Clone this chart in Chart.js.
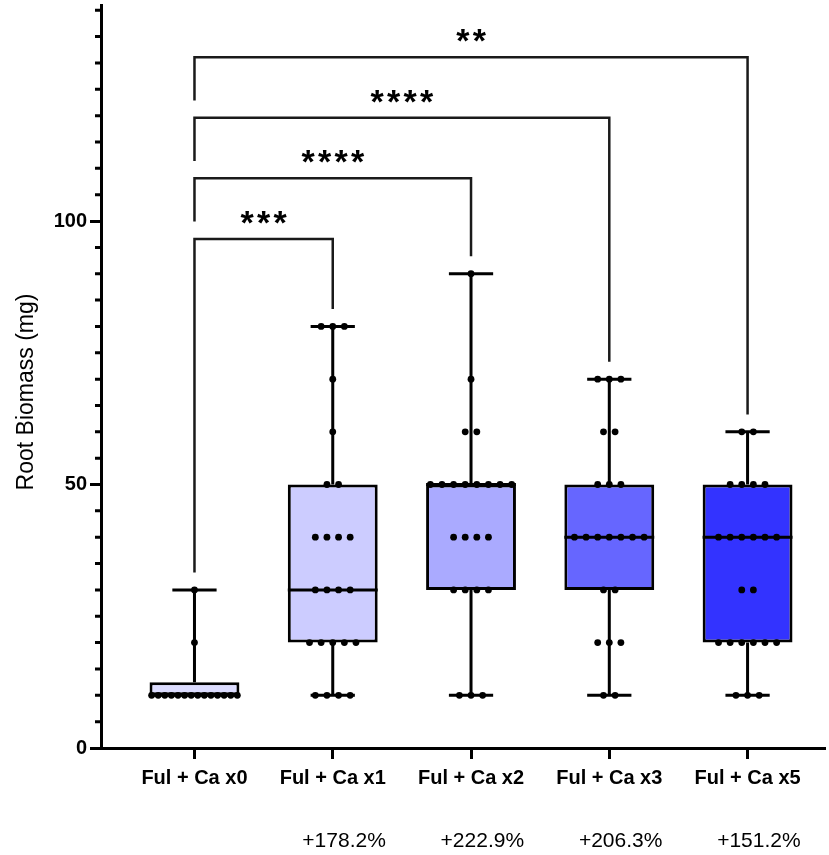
<!DOCTYPE html>
<html>
<head>
<meta charset="utf-8">
<script src="https://cdn.jsdelivr.net/npm/chart.js@4.4.1/dist/chart.umd.min.js"></script>
<style>
  html, body { margin: 0; padding: 0; background: #fff; }
  canvas { display: block; }
</style>
</head>
<body>
<canvas id="rootChart" width="829" height="855"></canvas>
<script>
// groups and read-off values
const categories = ['Ful + Ca x0', 'Ful + Ca x1', 'Ful + Ca x2', 'Ful + Ca x3', 'Ful + Ca x5'];
const changeLabels = ['', '+178.2%', '+222.9%', '+206.3%', '+151.2%'];

const x0Values = [10, 10, 10, 10, 10, 10, 10, 10, 10, 10, 10, 10, 10, 10, 20, 30];
const x1Values = [10, 10, 10, 10, 20, 20, 20, 20, 20, 30, 30, 30, 30, 40, 40, 40, 40, 50, 50, 60, 70, 80, 80, 80];
const x2Values = [10, 10, 10, 30, 30, 30, 30, 40, 40, 40, 40, 50, 50, 50, 50, 50, 50, 50, 50, 60, 60, 70, 90];
const x3Values = [10, 10, 20, 20, 20, 30, 30, 40, 40, 40, 40, 40, 40, 40, 50, 50, 50, 60, 60, 70, 70, 70];
const x5Values = [10, 10, 10, 20, 20, 20, 20, 20, 20, 30, 30, 40, 40, 40, 40, 40, 40, 50, 50, 50, 50, 60, 60];
const groupValues = [x0Values, x1Values, x2Values, x3Values, x5Values];

// box stats as drawn
const mins = [10, 10, 10, 10, 10];
const q1s = [10, 20, 30, 30, 20];
const medians = [10, 30, 50, 40, 40];
const q3s = [12.5, 50, 50, 50, 50];
const maxs = [30, 80, 90, 70, 60];

const boxColors = ['#dcdcff', '#ccccff', '#aaaaff', '#6666ff', '#3333ff'];

// significance brackets: from group 0 to target
const sigTargets = [1, 2, 3, 4];
const sigLabels = ['***', '****', '****', '**'];

const yTickValues = [];
for (let v = 0; v <= 140; v += 5) yTickValues.push(v);

const FONT = "'Liberation Sans', Arial, sans-serif";
Chart.defaults.font.family = FONT;
Chart.defaults.color = '#000';

const BOX_W = 0.65;   // box width in x units
const CAP_W = 0.32;
const DOT_STEP = 0.084;
const DOT_SPAN = 0.62;

function spreadDots(values, gi) {
    const counts = {};
    values.forEach(v => { counts[v] = (counts[v] || 0) + 1; });
    const seen = {};
    return values.map(v => {
        const n = counts[v];
        seen[v] = seen[v] === undefined ? 0 : seen[v] + 1;
        const step = n > 1 ? Math.min(DOT_STEP, DOT_SPAN / (n - 1)) : 0;
        return { x: gi + (seen[v] - (n - 1) / 2) * step, y: v };
    });
}

const dots = [];
groupValues.forEach((vals, gi) => dots.push(...spreadDots(vals, gi)));

const boxPlugin = {
    id: 'boxParts',
    afterDatasetDraw(chart, args) {
        if (args.index !== 0) return;
        const { ctx, scales: { x, y } } = chart;
        ctx.save();
        ctx.strokeStyle = '#000';
        ctx.lineWidth = 3;
        categories.forEach((c, i) => {
            const cx = x.getPixelForValue(i);
            const capL = x.getPixelForValue(i - CAP_W / 2), capR = x.getPixelForValue(i + CAP_W / 2);
            const boxL = x.getPixelForValue(i - BOX_W / 2), boxR = x.getPixelForValue(i + BOX_W / 2);
            ctx.beginPath();
            ctx.moveTo(cx, y.getPixelForValue(q3s[i]));
            ctx.lineTo(cx, y.getPixelForValue(maxs[i]));
            ctx.moveTo(capL, y.getPixelForValue(maxs[i]));
            ctx.lineTo(capR, y.getPixelForValue(maxs[i]));
            ctx.moveTo(cx, y.getPixelForValue(q1s[i]));
            ctx.lineTo(cx, y.getPixelForValue(mins[i]));
            ctx.moveTo(capL, y.getPixelForValue(mins[i]));
            ctx.lineTo(capR, y.getPixelForValue(mins[i]));
            ctx.moveTo(boxL, y.getPixelForValue(medians[i]));
            ctx.lineTo(boxR, y.getPixelForValue(medians[i]));
            ctx.stroke();
        });
        ctx.restore();
    }
};

const extrasPlugin = {
    id: 'extras',
    afterDraw(chart) {
        const { ctx, chartArea, scales: { x, y } } = chart;
        ctx.save();

        // minor y ticks
        ctx.strokeStyle = '#000';
        ctx.lineWidth = 3;
        ctx.beginPath();
        yTickValues.filter(v => v % 50 !== 0).forEach(v => {
            const py = y.getPixelForValue(v);
            ctx.moveTo(chartArea.left - 6, py);
            ctx.lineTo(chartArea.left, py);
        });
        ctx.stroke();

        // y title
        ctx.save();
        ctx.translate(27, 392);
        ctx.rotate(-Math.PI / 2);
        ctx.font = '23px ' + FONT;
        ctx.fillStyle = '#000';
        ctx.textAlign = 'center';
        ctx.textBaseline = 'middle';
        ctx.fillText('Root Biomass (mg)', 0, 0);
        ctx.restore();

        // % change under labels, right aligned with category label
        categories.forEach((c, i) => {
            if (!changeLabels[i]) return;
            ctx.font = 'bold 20px ' + FONT;
            const w = ctx.measureText(c).width;
            ctx.font = '21px ' + FONT;
            ctx.fillStyle = '#000';
            ctx.textAlign = 'right';
            ctx.textBaseline = 'middle';
            ctx.fillText(changeLabels[i], x.getPixelForValue(i) + w / 2, 841);
        });

        // significance brackets
        ctx.strokeStyle = '#1a1a1a';
        ctx.lineWidth = 2.5;
        const x0 = x.getPixelForValue(0);
        sigTargets.forEach((t, k) => {
            const level = 96.6 + k * 11.5;
            const py = y.getPixelForValue(level);
            const px = x.getPixelForValue(t);
            const leftEnd = k === 0 ? maxs[0] + 3.3 : level - 8.2;
            ctx.beginPath();
            ctx.moveTo(x0, y.getPixelForValue(leftEnd));
            ctx.lineTo(x0, py);
            ctx.lineTo(px, py);
            ctx.lineTo(px, y.getPixelForValue(maxs[t] + 3.3));
            ctx.stroke();

            ctx.font = 'bold 34px ' + FONT;
            ctx.fillStyle = '#000';
            ctx.textAlign = 'center';
            ctx.textBaseline = 'alphabetic';
            const n = sigLabels[k].length, sp = 16.5;
            const mid = (x0 + px) / 2;
            for (let j = 0; j < n; j++) {
                ctx.fillText('*', mid + (j - (n - 1) / 2) * sp, py - 5);
            }
        });
        ctx.restore();
    }
};

new Chart(document.getElementById('rootChart'), {
    type: 'bar',
    data: {
        datasets: [{
            type: 'bar',
            data: categories.map((c, i) => ({ x: i, y: [q1s[i], q3s[i]] })),
            backgroundColor: boxColors,
            borderColor: '#000',
            borderWidth: 3,
            borderSkipped: false,
            categoryPercentage: 1,
            barPercentage: BOX_W,
            order: 2,
        }, {
            type: 'scatter',
            data: dots,
            pointRadius: 3.4,
            pointBackgroundColor: '#000',
            pointBorderWidth: 0,
            order: 1,
        }],
    },
    options: {
        responsive: false,
        animation: false,
        devicePixelRatio: 1,
        layout: { padding: { top: 5, right: 0, left: 0, bottom: 0 } },
        plugins: { legend: { display: false }, tooltip: { enabled: false } },
        scales: {
            x: {
                type: 'linear',
                min: -0.676,
                max: 4.56,
                offset: false,
                afterBuildTicks: s => { s.ticks = categories.map((c, i) => ({ value: i })); },
                afterFit: s => { s.height = 107; s.paddingLeft = 0; s.paddingRight = 0; },
                ticks: {
                    autoSkip: false,
                    maxRotation: 0,
                    padding: 7,
                    font: { size: 20, weight: 'bold' },
                    color: '#000',
                    callback: v => categories[v],
                },
                grid: { offset: false, drawOnChartArea: false, tickLength: 11, tickWidth: 3, tickColor: '#000' },
                border: { display: true, width: 3, color: '#000' },
            },
            y: {
                type: 'linear',
                min: 0,
                max: 141,
                afterBuildTicks: s => { s.ticks = yTickValues.map(v => ({ value: v })); },
                afterFit: s => { s.width = 101; s.paddingTop = 0; s.paddingBottom = 0; },
                ticks: {
                    autoSkip: false,
                    padding: 3,
                    font: { size: 20, weight: 'bold' },
                    color: '#000',
                    callback: v => (v % 50 === 0 ? v : ''),
                },
                grid: {
                    drawOnChartArea: false,
                    tickLength: 11,
                    tickWidth: 3,
                    tickColor: c => (c.tick && c.tick.value % 50 === 0 ? '#000' : 'rgba(0,0,0,0)'),
                },
                border: { display: true, width: 3, color: '#000' },
            },
        },
    },
    plugins: [boxPlugin, extrasPlugin],
});
</script>
</body>
</html>
